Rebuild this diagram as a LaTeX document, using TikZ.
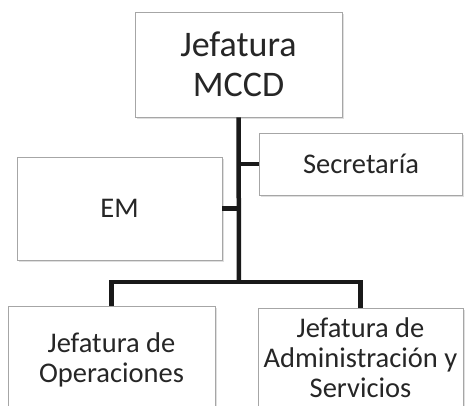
\documentclass[tikz,border=0pt]{standalone}
\usepackage{fontspec}
\setmainfont{Carlito}
\usetikzlibrary{shadows}

\begin{document}
\begin{tikzpicture}[x=1pt,y=-1pt,line join=miter]
	\tikzstyle{caja}=[draw=black!35,fill=white,line width=0.8pt,inner sep=1pt,align=center,text=black!85,
		drop shadow={shadow xshift=1.5pt,shadow yshift=-1.5pt,opacity=0.25},
		font=\fontsize{28.5}{30}\selectfont];
	\tikzstyle{jefe}=[caja,font=\fontsize{36}{40}\selectfont];
	\tikzstyle{linea}=[line width=4.5pt,draw=black!90];

	\useasboundingbox (0,0) rectangle (465,405);
	\clip (0,0) rectangle (465,405);

	\node[jefe,minimum width=207pt,minimum height=105pt] (mccd) at (238.5,64.5) {Jefatura\\MCCD};
	\node[caja,minimum width=203pt,minimum height=62pt]  (secr) at (361,164)    {Secretaría};
	\node[caja,minimum width=205pt,minimum height=103pt] (em)   at (119.5,208.5) {EM};
	\node[caja,minimum width=207pt,minimum height=108pt] (ops)  at (111.5,360)  {Jefatura de\\Operaciones};
	\node[caja,minimum width=205pt,minimum height=99pt]  (adm)  at (360.5,357.5) {Jefatura de\\Administración y\\Servicios};

	\coordinate (bus) at (239,282);
	\draw[linea] (mccd.south) -- (bus);
	\draw[linea] (secr.west) -- (secr.west -| mccd.south);
	\draw[linea] (em.east) -- (em.east -| mccd.south);
	\draw[linea] (ops.north) |- (bus) -| (adm.north);
\end{tikzpicture}
\end{document}
